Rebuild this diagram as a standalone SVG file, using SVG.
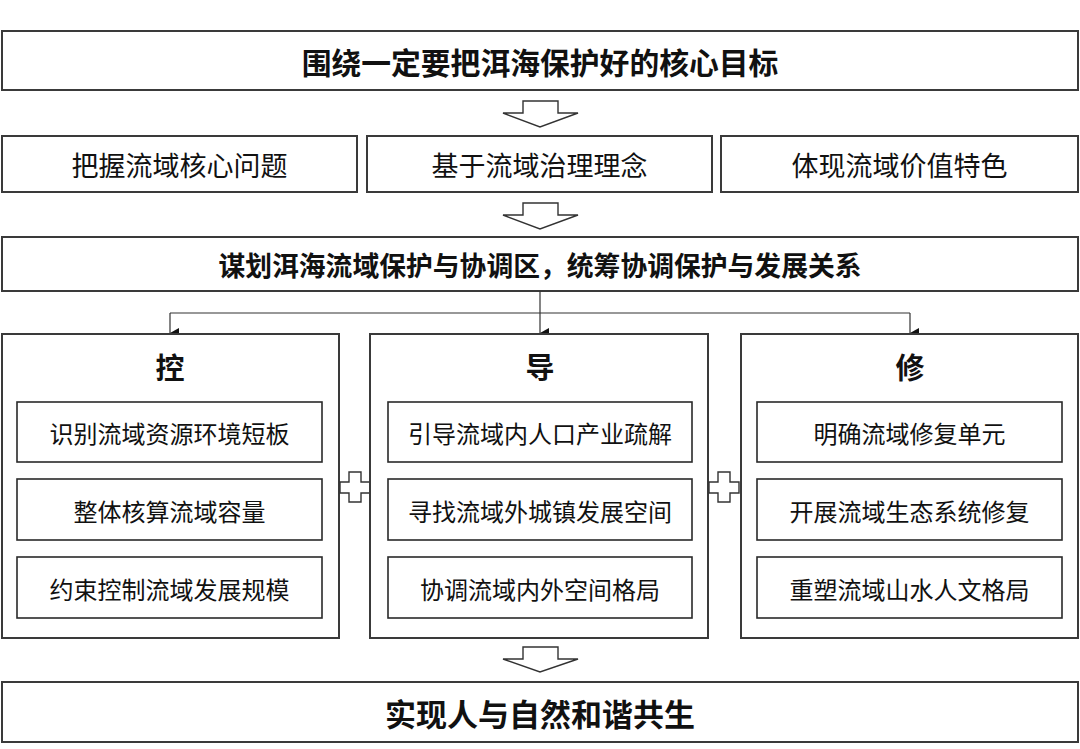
<svg xmlns="http://www.w3.org/2000/svg" width="1080" height="749" viewBox="0 0 1080 749">
<defs>
<style>
.box{fill:#fff;stroke:#3a3a3a;stroke-width:2}
.inner{fill:#fff;stroke:#2a2a2a;stroke-width:1.6}
.t{font-family:"Noto Sans CJK SC","Noto Sans",sans-serif;fill:#111;text-anchor:middle;dominant-baseline:central}
.b{font-weight:bold}
.hollow{fill:#fff;stroke:#333;stroke-width:1.4;stroke-linejoin:miter}
.conn{fill:none;stroke:#333;stroke-width:1.2}
</style>
<marker id="ah" markerWidth="10" markerHeight="10" refX="5" refY="9" orient="auto" markerUnits="userSpaceOnUse" viewBox="0 0 10 10">
<path d="M0,0 L10,0 L5,9 Z" fill="#111"/>
</marker>
</defs>
<rect width="1080" height="749" fill="#fff"/>

<g id="goal">
<rect class="box" x="2" y="31" width="1076" height="59"/>
<text class="t b" x="540" y="61" font-size="29.8">围绕一定要把洱海保护好的核心目标</text>
</g>

<g id="arrow1"><path class="hollow" d="M523,101 H558 V113 H578 L540,127 L503,113 H523 Z"/></g>

<g id="basis1">
<rect class="box" x="2" y="136" width="355" height="56"/>
<text class="t" x="179.5" y="164" font-size="27">把握流域核心问题</text>
</g>
<g id="basis2">
<rect class="box" x="367" y="136" width="345" height="56"/>
<text class="t" x="539.5" y="164" font-size="27">基于流域治理理念</text>
</g>
<g id="basis3">
<rect class="box" x="721" y="136" width="357" height="56"/>
<text class="t" x="899.5" y="164" font-size="27">体现流域价值特色</text>
</g>

<g id="arrow2"><path class="hollow" d="M523,203 H558 V215 H578 L540,229 L503,215 H523 Z"/></g>

<g id="plan">
<rect class="box" x="2" y="237" width="1076" height="54"/>
<text class="t b" x="540" y="264" font-size="26.8">谋划洱海流域保护与协调区，统筹协调保护与发展关系</text>
</g>

<g id="connectors">
<path class="conn" d="M540,291 V313"/>
<path class="conn" d="M170,313 H910"/>
<path class="conn" d="M170,313 V333" marker-end="url(#ah)"/>
<path class="conn" d="M540,313 V333" marker-end="url(#ah)"/>
<path class="conn" d="M910,313 V333" marker-end="url(#ah)"/>
</g>

<g id="col-control">
<rect class="box" x="2" y="334" width="337" height="304"/>
<text class="t b" x="170" y="366" font-size="29">控</text>
<rect class="inner" x="17" y="402" width="305" height="60"/>
<text class="t" x="169.5" y="432" font-size="24">识别流域资源环境短板</text>
<rect class="inner" x="17" y="479" width="305" height="61"/>
<text class="t" x="169.5" y="510" font-size="24">整体核算流域容量</text>
<rect class="inner" x="17" y="557" width="305" height="61"/>
<text class="t" x="169.5" y="588" font-size="24">约束控制流域发展规模</text>
</g>

<g id="plus1"><path class="hollow" d="M349,472 H361 V482 H370 V493 H361 V502 H349 V493 H340 V482 H349 Z"/></g>

<g id="col-guide">
<rect class="box" x="370" y="334" width="338" height="304"/>
<text class="t b" x="540" y="366" font-size="29">导</text>
<rect class="inner" x="388" y="402" width="304" height="60"/>
<text class="t" x="540" y="432" font-size="24">引导流域内人口产业疏解</text>
<rect class="inner" x="388" y="479" width="304" height="61"/>
<text class="t" x="540" y="510" font-size="24">寻找流域外城镇发展空间</text>
<rect class="inner" x="388" y="557" width="304" height="61"/>
<text class="t" x="540" y="588" font-size="24">协调流域内外空间格局</text>
</g>

<g id="plus2"><path class="hollow" d="M718,472 H730 V482 H739 V493 H730 V502 H718 V493 H709 V482 H718 Z"/></g>

<g id="col-repair">
<rect class="box" x="741" y="334" width="337" height="304"/>
<text class="t b" x="910" y="366" font-size="29">修</text>
<rect class="inner" x="757" y="402" width="305" height="60"/>
<text class="t" x="909.5" y="432" font-size="24">明确流域修复单元</text>
<rect class="inner" x="757" y="479" width="305" height="61"/>
<text class="t" x="909.5" y="510" font-size="24">开展流域生态系统修复</text>
<rect class="inner" x="757" y="557" width="305" height="61"/>
<text class="t" x="909.5" y="588" font-size="24">重塑流域山水人文格局</text>
</g>

<g id="arrow3"><path class="hollow" d="M523,647 H558 V659 H578 L540,672 L503,659 H523 Z"/></g>

<g id="outcome">
<rect class="box" x="2" y="682" width="1076" height="60"/>
<text class="t b" x="540" y="712" font-size="31">实现人与自然和谐共生</text>
</g>
</svg>
